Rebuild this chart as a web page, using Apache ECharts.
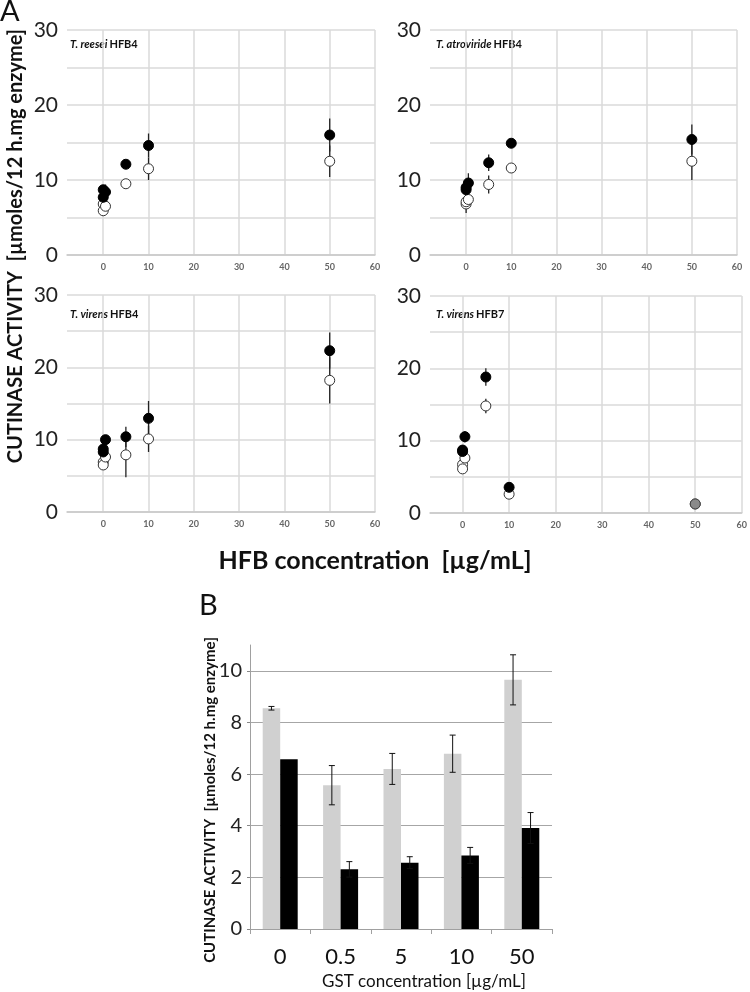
<!DOCTYPE html>
<html><head><meta charset="utf-8">
<script src="https://cdn.jsdelivr.net/npm/echarts@6/dist/echarts.min.js"></script>
<style>html,body{margin:0;padding:0;background:#fff}#c{width:750px;height:992px}</style>
</head><body><div id="c"></div>
<script>
// ---- Panel A data: HFB concentration (µg/mL) ----
const hfbX = [0, 0, 0.5, 5, 10, 50];
const xTickValues = [0, 10, 20, 30, 40, 50, 60];

const reeseiFilled    = [8.7, 7.7, 8.4, 12.1, 14.6, 16.0];
const reeseiFilledErr = [0, 0, 1.0, 0, 1.6, 2.2];
const reeseiOpen      = [6.8, 5.9, 6.5, 9.5, 11.5, 12.5];
const reeseiOpenErr   = [0, 0, 0, 0, 1.5, 2.1];

const atroFilled    = [9.0, 8.7, 9.6, 12.3, 14.9, 15.4];
const atroFilledErr = [0, 0, 1.3, 1.1, 0, 2.0];
const atroOpen      = [6.8, 7.1, 7.4, 9.4, 11.6, 12.5];
const atroOpenErr   = [0, 1.5, 0, 1.2, 0, 2.5];

const virens4Filled    = [8.7, 8.3, 10.0, 10.4, 12.95, 22.3];
const virens4FilledErr = [0, 0, 0, 1.4, 2.4, 2.5];
const virens4Open      = [6.9, 6.5, 7.6, 7.9, 10.1, 18.2];
const virens4OpenErr   = [0, 0, 0, 3.1, 1.8, 3.2];

const virens7Filled    = [8.7, 8.5, 10.55, 18.8, 3.55, 1.25];
const virens7FilledErr = [0, 0, 0.8, 1.2, 0, 0];
const virens7Open      = [6.7, 6.1, 7.6, 14.8, 2.6, 1.25];
const virens7OpenErr   = [0, 0, 0, 1.0, 0, 0];

// ---- Panel B data: GST concentration ----
const gstCats  = ['0', '0.5', '5', '10', '50'];
const grayVals = [8.55, 5.57, 6.2, 6.79, 9.65];
const grayErr  = [0.07, 0.76, 0.6, 0.72, 0.97];
const blackVals = [6.57, 2.31, 2.57, 2.85, 3.91];
const blackErr  = [0, 0.3, 0.23, 0.31, 0.6];
const bYTicks = [0, 2, 4, 6, 8, 10];

const FONT = 'Lato, "Open Sans", sans-serif';

const panels = [
  {sp: 'T. reesei', hfb: 'HFB4', f: reeseiFilled, fe: reeseiFilledErr, o: reeseiOpen, oe: reeseiOpenErr,
   grid: {left: 67, top: 30, width: 308, height: 225}, min: -8, title: [70, 44]},
  {sp: 'T. atroviride', hfb: 'HFB4', f: atroFilled, fe: atroFilledErr, o: atroOpen, oe: atroOpenErr,
   grid: {left: 430, top: 30, width: 307, height: 225}, min: -8, title: [436, 44]},
  {sp: 'T. virens', hfb: 'HFB4', f: virens4Filled, fe: virens4FilledErr, o: virens4Open, oe: virens4OpenErr,
   grid: {left: 67, top: 295, width: 308, height: 217}, min: -8, title: [70, 314]},
  {sp: 'T. virens', hfb: 'HFB7', f: virens7Filled, fe: virens7FilledErr, o: virens7Open, oe: virens7OpenErr,
   grid: {left: 430, top: 296, width: 314, height: 217}, min: -7, title: [436, 314], grayLast: true}
];

const measureCtx = document.createElement('canvas').getContext('2d');
function textWidth(str, font) { measureCtx.font = font; return measureCtx.measureText(str).width; }

const grids = [], xAxes = [], yAxes = [], series = [], graphics = [];

function errSeries(idx, xs, vals, errs) {
  return {
    type: 'custom', xAxisIndex: idx, yAxisIndex: idx, z: 1, silent: true,
    data: xs.map((x, i) => [x, vals[i], errs[i]]).filter(d => d[2] > 0),
    renderItem: function (params, api) {
      const x = api.value(0), v = api.value(1), e = api.value(2);
      const p1 = api.coord([x, v - e]), p2 = api.coord([x, v + e]);
      return {type: 'line', shape: {x1: p1[0], y1: p1[1], x2: p2[0], y2: p2[1]},
              style: {stroke: '#222', lineWidth: 1.3}};
    }
  };
}

panels.forEach((p, k) => {
  grids.push(p.grid);
  xAxes.push({
    type: 'value', gridIndex: k, min: p.min, max: 60,
    axisLine: {show: true, lineStyle: {color: '#c8c8c8', width: 1.5}},
    axisTick: {show: true, length: 0, customValues: xTickValues, lineStyle: {color: 'rgba(0,0,0,0)'}},
    axisLabel: {customValues: xTickValues, fontSize: 9, fontWeight: 'bold', color: '#666', fontFamily: FONT, margin: 8},
    splitLine: {show: true, lineStyle: {color: '#dadada', width: 1.5}}
  });
  yAxes.push({
    type: 'value', gridIndex: k, min: 0, max: 30, interval: 5,
    axisLine: {show: false}, axisTick: {show: false},
    axisLabel: {fontSize: 21, color: '#222', fontFamily: FONT, margin: 9,
                formatter: v => (v % 10 === 0 ? String(v) : '')},
    splitLine: {show: true, lineStyle: {color: '#dadada', width: 1.5}}
  });
  series.push(errSeries(k, hfbX, p.f, p.fe));
  series.push(errSeries(k, hfbX, p.o, p.oe));
  const n = hfbX.length;
  series.push({
    type: 'scatter', xAxisIndex: k, yAxisIndex: k, symbolSize: 10, z: 3,
    itemStyle: {color: '#fff', borderColor: '#333', borderWidth: 1, opacity: 1},
    data: hfbX.map((x, i) => [x, p.o[i]])
  });
  series.push({
    type: 'scatter', xAxisIndex: k, yAxisIndex: k, symbolSize: 10, z: 4,
    itemStyle: {color: '#000', borderColor: '#000', borderWidth: 1, opacity: 1},
    data: hfbX.map((x, i) => {
      if (p.grayLast && i === n - 1) {
        return {value: [x, p.f[i]], itemStyle: {color: '#8a8a8a', borderColor: '#444', opacity: 1}};
      }
      return [x, p.f[i]];
    })
  });
  const spFont = 'italic bold 11px Lato';
  const w = textWidth(p.sp, spFont);
  graphics.push({
    type: 'text', x: p.title[0], y: p.title[1],
    style: {text: p.sp, font: spFont, fill: '#111', textVerticalAlign: 'middle', verticalAlign: 'middle'}
  });
  graphics.push({
    type: 'text', x: p.title[0] + w + 2, y: p.title[1],
    style: {text: p.hfb, font: 'bold 11px Lato', fill: '#111', textVerticalAlign: 'middle', verticalAlign: 'middle'}
  });
});

// ---- Panel B ----
const bk = panels.length;
grids.push({left: 250, top: 645, width: 302, height: 284});
xAxes.push({
  type: 'category', gridIndex: bk, data: gstCats,
  axisLine: {show: true, lineStyle: {color: '#a0a0a0', width: 1}},
  axisTick: {show: true, length: 5, lineStyle: {color: '#a0a0a0'}},
  axisLabel: {fontSize: 22, color: '#111', fontFamily: FONT, margin: 17},
  splitLine: {show: false}
});
yAxes.push({
  type: 'value', gridIndex: bk, min: 0, max: 11, interval: 2,
  axisLine: {show: true, lineStyle: {color: '#a0a0a0', width: 1}},
  axisTick: {show: true, length: 3, customValues: bYTicks, lineStyle: {color: '#888'}},
  axisLabel: {customValues: bYTicks, fontSize: 20, color: '#222', fontFamily: FONT, margin: 8},
  splitLine: {show: true, lineStyle: {color: '#a6a6a6', width: 1}}
});
const BW = 17.5;
series.push({
  type: 'bar', xAxisIndex: bk, yAxisIndex: bk, data: grayVals, barWidth: BW, barGap: '0%',
  itemStyle: {color: '#d0d0d0'}
});
series.push({
  type: 'bar', xAxisIndex: bk, yAxisIndex: bk, data: blackVals, barWidth: BW, barGap: '0%',
  itemStyle: {color: '#000'}
});
function barErr(vals, errs, dir) {
  return {
    type: 'custom', xAxisIndex: bk, yAxisIndex: bk, z: 5, silent: true,
    data: vals.map((v, i) => [i, v, errs[i]]).filter(d => d[2] > 0),
    renderItem: function (params, api) {
      const i = api.value(0), v = api.value(1), e = api.value(2);
      const top = api.coord([i, v + e]), bot = api.coord([i, v - e]);
      const cx = top[0] + dir * BW / 2;
      const cap = 3;
      return {type: 'group', children: [
        {type: 'line', shape: {x1: cx, y1: top[1], x2: cx, y2: bot[1]}, style: {stroke: '#111', lineWidth: 1}},
        {type: 'line', shape: {x1: cx - cap, y1: top[1], x2: cx + cap, y2: top[1]}, style: {stroke: '#111', lineWidth: 1}},
        {type: 'line', shape: {x1: cx - cap, y1: bot[1], x2: cx + cap, y2: bot[1]}, style: {stroke: '#111', lineWidth: 1}}
      ]};
    }
  };
}
series.push(barErr(grayVals, grayErr, -1));
series.push(barErr(blackVals, blackErr, 1));

// ---- Texts ----
graphics.push({type: 'text', x: 0, y: -3, style: {text: 'A', fontSize: 29, fontFamily: FONT, fill: '#111'}});
graphics.push({type: 'text', x: 199, y: 591, style: {text: 'B', fontSize: 29, fontFamily: FONT, fill: '#111'}});
graphics.push({
  type: 'text', x: 16, y: 246, rotation: Math.PI / 2,
  style: {text: 'CUTINASE ACTIVITY  [µmoles/12 h.mg enzyme]', fontSize: 20, fontWeight: 'bold', fontFamily: FONT,
          fill: '#111', textAlign: 'center', align: 'center', textVerticalAlign: 'middle', verticalAlign: 'middle'}
});
graphics.push({
  type: 'text', x: 375, y: 561,
  style: {text: 'HFB concentration  [µg/mL]', fontSize: 25, fontWeight: 'bold', fontFamily: FONT,
          fill: '#111', textAlign: 'center', align: 'center', textVerticalAlign: 'middle', verticalAlign: 'middle'}
});
graphics.push({
  type: 'text', x: 210, y: 800, rotation: Math.PI / 2,
  style: {text: 'CUTINASE ACTIVITY  [µmoles/12 h.mg enzyme]', fontSize: 15, fontWeight: 'bold', fontFamily: FONT,
          fill: '#111', textAlign: 'center', align: 'center', textVerticalAlign: 'middle', verticalAlign: 'middle'}
});
graphics.push({
  type: 'text', x: 424, y: 982,
  style: {text: 'GST concentration [µg/mL]', fontSize: 17, fontFamily: FONT,
          fill: '#111', textAlign: 'center', align: 'center', textVerticalAlign: 'middle', verticalAlign: 'middle'}
});

const chart = echarts.init(document.getElementById('c'), null, {renderer: 'canvas'});
chart.setOption({
  animation: false,
  backgroundColor: '#fff',
  grid: grids, xAxis: xAxes, yAxis: yAxes, series: series, graphic: graphics
});
</script>
</body></html>
